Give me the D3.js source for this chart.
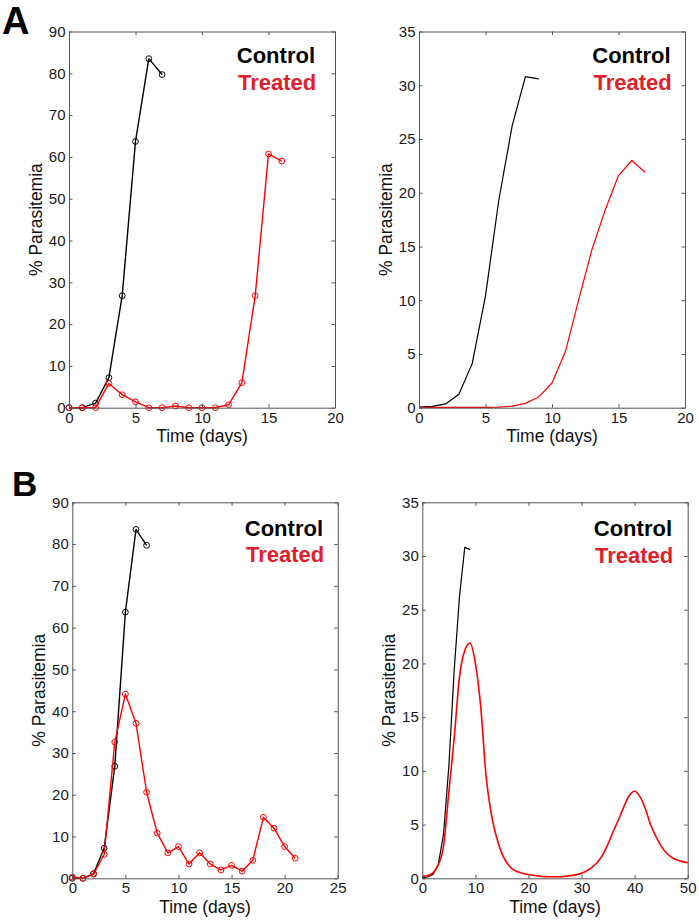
<!DOCTYPE html>
<html>
<head>
<meta charset="utf-8">
<script src="https://cdn.jsdelivr.net/npm/d3@7"></script>
<style>
  html, body { margin: 0; padding: 0; background: #fff; }
  svg { display: block; }
</style>
</head>
<body>
<svg id="chart" width="699" height="920"></svg>
<script>
// ---------- DATA ----------
// Clinical observations (panel A left / B left)
const obsControlDays = [0, 1, 2, 3, 4, 5, 6, 7];
const obsControl     = [0, 0, 1.1, 7.2, 26.8, 63.7, 83.5, 79.7];

const obsTreatedADays = [0, 1, 2, 3, 4, 5, 6, 7, 8, 9, 10, 11, 12, 13, 14, 15, 16];
const obsTreatedA     = [0, 0, 0, 5.8, 3.1, 1.4, 0, 0, 0.4, 0, 0, 0, 0.7, 6.0, 26.8, 60.7, 59.0];

const obsTreatedBDays = [0, 1, 2, 3, 4, 5, 6, 7, 8, 9, 10, 11, 12, 13, 14, 15, 16, 17, 18, 19, 20, 21];
const obsTreatedB     = [0.3, 0, 1.0, 5.7, 32.6, 44.1, 37.1, 20.6, 10.8, 6.1, 7.6, 3.4, 6.1, 3.4, 2.0, 3.1, 1.7, 4.3, 14.6, 12.0, 7.6, 4.8];

// Model simulations (panel A right / B right)
const modelControlDays = [0, 1, 2, 3, 4, 5, 6, 7, 8, 9];
const modelControl     = [0.05, 0.12, 0.35, 1.25, 4.1, 10.4, 19.3, 26.2, 30.8, 30.6];

const modelTreatedADays = [0, 1, 2, 3, 4, 5, 6, 7, 8, 9, 10, 11, 12, 13, 14, 15, 16, 17];
const modelTreatedA     = [0.02, 0.03, 0.03, 0.03, 0.03, 0.03, 0.05, 0.15, 0.4, 1.0, 2.3, 5.2, 10.0, 14.7, 18.4, 21.6, 23.0, 21.9];

const modelTreatedBDays = [0, 1, 2, 3, 4, 5, 6, 7, 8, 9, 10, 11, 12, 13, 14, 15, 16, 17, 18, 19, 20,
                           22, 24, 26, 28, 30, 31, 32, 33, 34, 35, 36, 37, 38, 39, 40,
                           41, 42, 43, 44, 45, 46, 47, 48, 49, 50];
const modelTreatedB     = [0.15, 0.25, 0.5, 1.25, 3.0, 8.0, 13.0, 18.7, 21.2, 21.9, 20.0, 16.0, 9.6, 6.0, 3.8, 2.3, 1.4, 0.85, 0.6, 0.45, 0.35,
                           0.2, 0.15, 0.15, 0.25, 0.47, 0.7, 1.05, 1.5, 2.2, 3.2, 4.4, 5.5, 6.7, 7.7, 8.1,
                           7.6, 6.5, 5.0, 3.9, 3.0, 2.35, 1.95, 1.7, 1.55, 1.45];

// Axis ticks
const xTicksA  = [0, 5, 10, 15, 20];
const xTicksBL = [0, 5, 10, 15, 20, 25];
const xTicksBR = [0, 10, 20, 30, 40, 50];
const yTicksObs   = [0, 10, 20, 30, 40, 50, 60, 70, 80, 90];
const yTicksModel = [0, 5, 10, 15, 20, 25, 30, 35];

// Labels
const legendLabels = ["Control", "Treated"];
const xTitle = "Time (days)";
const yTitle = "% Parasitemia";
const panelLetters = ["A", "B"];

// ---------- DRAWING ----------
const svg = d3.select("#chart");
const FONT = "Liberation Sans, Arial, Helvetica, sans-serif";
const RED = "#ff0000";
const LEGEND_RED = "#e3202a";
const AXIS_COLOR = "#555";

function zip(xs, ys) { return xs.map((x, i) => [x, ys[i]]); }

const panels = [
  { box: [69, 31.5, 335, 407.7], xDom: [0, 20], yDom: [0, 90], xTicks: xTicksA, yTicks: yTicksObs,
    series: [ { d: zip(obsControlDays, obsControl), c: "#000", w: 1.4, m: true, smooth: false },
              { d: zip(obsTreatedADays, obsTreatedA), c: RED, w: 1.4, m: true, smooth: false } ],
    legendRight: 315, legendTop: 63 },
  { box: [419, 31.5, 685, 407.7], xDom: [0, 20], yDom: [0, 35], xTicks: xTicksA, yTicks: yTicksModel,
    series: [ { d: zip(modelControlDays, modelControl), c: "#000", w: 1.2, m: false, smooth: false },
              { d: zip(modelTreatedADays, modelTreatedA), c: RED, w: 1.2, m: false, smooth: false } ],
    legendRight: 670.5, legendTop: 63 },
  { box: [72.3, 502.3, 337.7, 878.3], xDom: [0, 25], yDom: [0, 90], xTicks: xTicksBL, yTicks: yTicksObs,
    series: [ { d: zip(obsControlDays, obsControl), c: "#000", w: 1.4, m: true, smooth: false },
              { d: zip(obsTreatedBDays, obsTreatedB), c: RED, w: 1.4, m: true, smooth: false } ],
    legendRight: 323, legendTop: 535.5 },
  { box: [422.3, 502.3, 687.7, 878.3], xDom: [0, 50], yDom: [0, 35], xTicks: xTicksBR, yTicks: yTicksModel,
    series: [ { d: zip(modelControlDays, modelControl), c: "#000", w: 1.2, m: false, smooth: false },
              { d: zip(modelTreatedBDays, modelTreatedB), c: RED, w: 1.6, m: false, smooth: true } ],
    legendRight: 672, legendTop: 536 }
];

panels.forEach(p => {
  const [x0, y0, x1, y1] = p.box;
  const x = d3.scaleLinear().domain(p.xDom).range([x0, x1]);
  const y = d3.scaleLinear().domain(p.yDom).range([y1, y0]);
  const g = svg.append("g");

  // Series
  p.series.forEach(s => {
    const line = d3.line().x(d => x(d[0])).y(d => y(d[1]))
      .curve(s.smooth ? d3.curveMonotoneX : d3.curveLinear);
    g.append("path").datum(s.d)
      .attr("d", line).attr("fill", "none")
      .attr("stroke", s.c).attr("stroke-width", s.w)
      .attr("stroke-linejoin", "round");
    if (s.m) {
      g.selectAll(null).data(s.d).enter().append("circle")
        .attr("cx", d => x(d[0])).attr("cy", d => y(d[1]))
        .attr("r", 2.9).attr("fill", "none")
        .attr("stroke", s.c).attr("stroke-width", 1);
    }
  });

  // Axes (ticks inside, on all four sides)
  const tl = 3.5;
  const axB = d3.axisBottom(x).tickValues(p.xTicks).tickSizeInner(-tl).tickSizeOuter(0).tickPadding(6);
  const axT = d3.axisTop(x).tickValues(p.xTicks).tickSizeInner(-tl).tickSizeOuter(0).tickFormat("");
  const axL = d3.axisLeft(y).tickValues(p.yTicks).tickSizeInner(-tl).tickSizeOuter(0).tickPadding(6);
  const axR = d3.axisRight(y).tickValues(p.yTicks).tickSizeInner(-tl).tickSizeOuter(0).tickFormat("");

  const gb = g.append("g").attr("transform", `translate(0,${y1})`).call(axB);
  const gt = g.append("g").attr("transform", `translate(0,${y0})`).call(axT);
  const gl = g.append("g").attr("transform", `translate(${x0},0)`).call(axL);
  const gr = g.append("g").attr("transform", `translate(${x1},0)`).call(axR);
  [gb, gt, gl, gr].forEach(a => {
    a.select(".domain").attr("stroke", AXIS_COLOR).attr("stroke-width", 1);
    a.selectAll(".tick line").attr("stroke", AXIS_COLOR).attr("stroke-width", 1);
    a.selectAll(".tick text").attr("font-family", FONT).attr("font-size", 15).attr("fill", "#1a1a1a");
  });
  gb.selectAll(".tick text").attr("dy", "0.71em").attr("y", 4.5);
  gl.selectAll(".tick text").attr("x", -3.5);

  // Axis titles
  g.append("text").text(xTitle)
    .attr("x", (x0 + x1) / 2).attr("y", y1 + 34.5)
    .attr("text-anchor", "middle").attr("font-family", FONT).attr("font-size", 17.5).attr("fill", "#111");
  g.append("text").text(yTitle)
    .attr("transform", `translate(${x0 - 27.5},${(y0 + y1) / 2}) rotate(-90)`)
    .attr("text-anchor", "middle").attr("font-family", FONT).attr("font-size", 17.5).attr("fill", "#111");

  // Legend
  g.append("text").text(legendLabels[0])
    .attr("x", p.legendRight).attr("y", p.legendTop)
    .attr("text-anchor", "end").attr("font-family", FONT).attr("font-weight", "bold")
    .attr("font-size", 22).attr("fill", "#000");
  g.append("text").text(legendLabels[1])
    .attr("x", p.legendRight + 1.3).attr("y", p.legendTop + 26.5)
    .attr("text-anchor", "end").attr("font-family", FONT).attr("font-weight", "bold")
    .attr("font-size", 22).attr("fill", LEGEND_RED);
});

// Panel letters
svg.append("text").text(panelLetters[0]).attr("x", 2).attr("y", 33.5)
  .attr("font-family", FONT).attr("font-weight", "bold").attr("font-size", 38).attr("fill", "#000");
svg.append("text").text(panelLetters[1]).attr("x", 12).attr("y", 495.5)
  .attr("font-family", FONT).attr("font-weight", "bold").attr("font-size", 35).attr("fill", "#000");
</script>
</body>
</html>
